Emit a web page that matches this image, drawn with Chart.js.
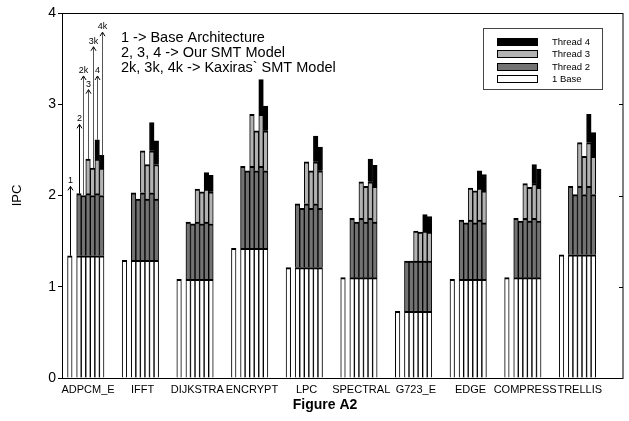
<!DOCTYPE html>
<html>
<head>
<meta charset="utf-8">
<script src="https://cdn.jsdelivr.net/npm/chart.js@4.4.1/dist/chart.umd.min.js"></script>
<style>
    html, body { margin: 0; padding: 0; background: #fff; }
    #wrap { width: 629px; height: 421px; }
</style>
</head>
<body>
<div id="wrap"><canvas id="ipcChart" width="629" height="421"></canvas></div>
<script>

const benchmarks = ['ADPCM_E', 'IFFT', 'DIJKSTRA', 'ENCRYPT', 'LPC', 'SPECTRAL', 'G723_E', 'EDGE', 'COMPRESS', 'TRELLIS'];
const baseIPC = [1.34, 1.29, 1.08, 1.42, 1.21, 1.10, 0.73, 1.08, 1.10, 1.35];
// our SMT model, 2 / 3 / 4 threads (total IPC)
const ours2 = [2.02, 2.03, 1.71, 2.32, 1.91, 1.75, 1.28, 1.73, 1.75, 2.10];
const ours3 = [2.40, 2.49, 2.07, 2.89, 2.37, 2.15, 1.61, 2.08, 2.13, 2.58];
const ours4 = [2.61, 2.80, 2.25, 3.27, 2.65, 2.40, 1.79, 2.27, 2.34, 2.89];
// Kaxiras SMT model, 2k / 3k / 4k
const kax2 = [2.00, 1.96, 1.69, 2.27, 1.86, 1.71, 1.28, 1.70, 1.72, 2.01];
const kax3 = [2.30, 2.34, 2.04, 2.71, 2.27, 2.10, 1.60, 2.05, 2.09, 2.43];
const kax4 = [2.44, 2.60, 2.22, 2.98, 2.53, 2.33, 1.77, 2.23, 2.29, 2.69];

const yTicks = [0, 1, 2, 3, 4];
const barNames = ['1', '2', '2k', '3', '3k', '4', '4k'];
// where the labelled arrows over ADPCM_E end (IPC)
const arrowTips = [2.10, 2.78, 3.31, 3.16, 3.63, 3.31, 3.79];
const noteLines = ['1 -> Base Architecture', '2, 3, 4 -> Our SMT Model', '2k, 3k, 4k -> Kaxiras` SMT Model'];
const seriesNames = ['1 Base', 'Thread 2', 'Thread 3', 'Thread 4'];
const seriesColors = ['#ffffff', '#737373', '#b2b2b2', '#000000'];

// layout of one benchmark group on the category axis
const SLOTS = 12;
const TRAILING_SLOTS = 3;
const barSlot = [1, 3, 4, 5, 6, 7, 8];
const barThreads = [1, 2, 2, 3, 3, 4, 4];
const barKax = [false, false, true, false, true, false, true];

const FONT = 'Arial, "Liberation Sans", sans-serif';

function levels(g, b) {
    const k = barKax[b];
    return [baseIPC[g], k ? kax2[g] : ours2[g], k ? kax3[g] : ours3[g], k ? kax4[g] : ours4[g]];
}

function barTop(g, b) {
    return levels(g, b)[barThreads[b] - 1];
}

// build 4 stacked series over 10 x 12 slots (+ empty room at the right)
const slotLabels = [];
const series = [[], [], [], []];
benchmarks.forEach((name, g) => {
    for (let s = 0; s < SLOTS; s++) {
        slotLabels.push(s === 5 ? name : '');
        const b = barSlot.indexOf(s);
        for (let t = 0; t < 4; t++) {
            if (b < 0 || t >= barThreads[b]) {
                series[t].push(null);
                continue;
            }
            const lv = levels(g, b);
            series[t].push(t === 0 ? lv[0] : +(lv[t] - lv[t - 1]).toFixed(3));
        }
    }
});
for (let s = 0; s < TRAILING_SLOTS; s++) {
    slotLabels.push('');
    series.forEach(d => d.push(null));
}

const datasets = series.map((data, t) => ({
    label: seriesNames[t],
    data: data,
    backgroundColor: seriesColors[t],
    borderColor: '#000',
    borderWidth: { top: 2, left: 1, right: 1, bottom: 0 },
    borderSkipped: 'start',
    barPercentage: 1,
    categoryPercentage: 1
}));

// frame, notes, arrows, legend and caption
const decorations = {
    id: 'decorations',
    afterDraw(chart) {
        const { ctx, chartArea: a, scales: { x, y } } = chart;
        ctx.save();

        ctx.strokeStyle = '#000';
        ctx.lineWidth = 1;
        ctx.strokeRect(a.left - 0.5, a.top + 0.5, a.right - a.left + 0.5, a.bottom - a.top);
        // small inward ticks on the right side
        yTicks.forEach(v => {
            const py = Math.round(y.getPixelForValue(v)) + 0.5;
            ctx.beginPath();
            ctx.moveTo(a.right - 4, py);
            ctx.lineTo(a.right, py);
            ctx.stroke();
        });

        // arrows over the first group
        ctx.font = '9px ' + FONT;
        ctx.textAlign = 'center';
        ctx.textBaseline = 'bottom';
        barNames.forEach((name, b) => {
            const px = Math.round(x.getPixelForValue(barSlot[b])) + 0.5;
            const y0 = y.getPixelForValue(barTop(0, b));
            const y1 = y.getPixelForValue(arrowTips[b]);
            ctx.strokeStyle = b < 2 ? '#000' : '#555';
            ctx.beginPath();
            ctx.moveTo(px, y0);
            ctx.lineTo(px, y1);
            ctx.stroke();
            ctx.strokeStyle = '#000';
            ctx.beginPath();
            ctx.moveTo(px - 2.5, y1 + 4);
            ctx.lineTo(px, y1);
            ctx.lineTo(px + 2.5, y1 + 4);
            ctx.stroke();
            ctx.fillStyle = '#000';
            ctx.fillText(name, px, y1 - 1);
        });

        ctx.font = '14.5px ' + FONT;
        ctx.textAlign = 'left';
        ctx.textBaseline = 'middle';
        noteLines.forEach((line, i) => {
            ctx.fillText(line, 121, 38 + i * 15);
        });

        // legend, drawn top series first
        const lx = 483, ly = 28, lw = 119, lh = 61;
        ctx.strokeStyle = '#444';
        ctx.strokeRect(lx + 0.5, ly + 0.5, lw, lh);
        ctx.font = '9.5px ' + FONT;
        chart.data.datasets.slice().reverse().forEach((ds, i) => {
            const ry = Math.round(ly + 14 + i * 12.3);
            ctx.fillStyle = ds.backgroundColor;
            ctx.fillRect(lx + 14, ry - 3.5, 40, 7);
            ctx.strokeStyle = '#000';
            ctx.strokeRect(lx + 14.5, ry - 3.5, 40, 7);
            ctx.fillStyle = '#000';
            ctx.fillText(ds.label, lx + 69, ry);
        });

        ctx.font = 'bold 14px ' + FONT;
        ctx.textAlign = 'center';
        ctx.fillText('Figure A2', 325, 405);
        ctx.restore();
    }
};

new Chart(document.getElementById('ipcChart'), {
    type: 'bar',
    data: { labels: slotLabels, datasets: datasets },
    options: {
        responsive: false,
        animation: false,
        layout: { padding: { top: 13, right: 6, left: 0, bottom: 0 } },
        plugins: {
            legend: { display: false },
            tooltip: { enabled: false }
        },
        scales: {
            x: {
                stacked: true,
                grid: { display: false, drawTicks: false },
                border: { display: false },
                ticks: {
                    autoSkip: false,
                    maxRotation: 0,
                    minRotation: 0,
                    padding: 5,
                    color: '#000',
                    font: { family: FONT, size: 11 }
                },
                afterFit(scale) { scale.height = 43; }
            },
            y: {
                stacked: true,
                min: yTicks[0],
                max: yTicks[yTicks.length - 1],
                afterBuildTicks(scale) { scale.ticks = yTicks.map(v => ({ value: v })); },
                grid: { drawOnChartArea: false, tickLength: 5, color: '#000' },
                border: { display: false },
                ticks: { padding: 2, color: '#000', font: { family: FONT, size: 14 } },
                title: {
                    display: true,
                    text: 'IPC',
                    color: '#000',
                    padding: { top: 10, bottom: 0 },
                    font: { family: FONT, size: 13 }
                },
                afterFit(scale) { scale.width = 63; }
            }
        }
    },
    plugins: [decorations]
});
</script>
</body>
</html>
